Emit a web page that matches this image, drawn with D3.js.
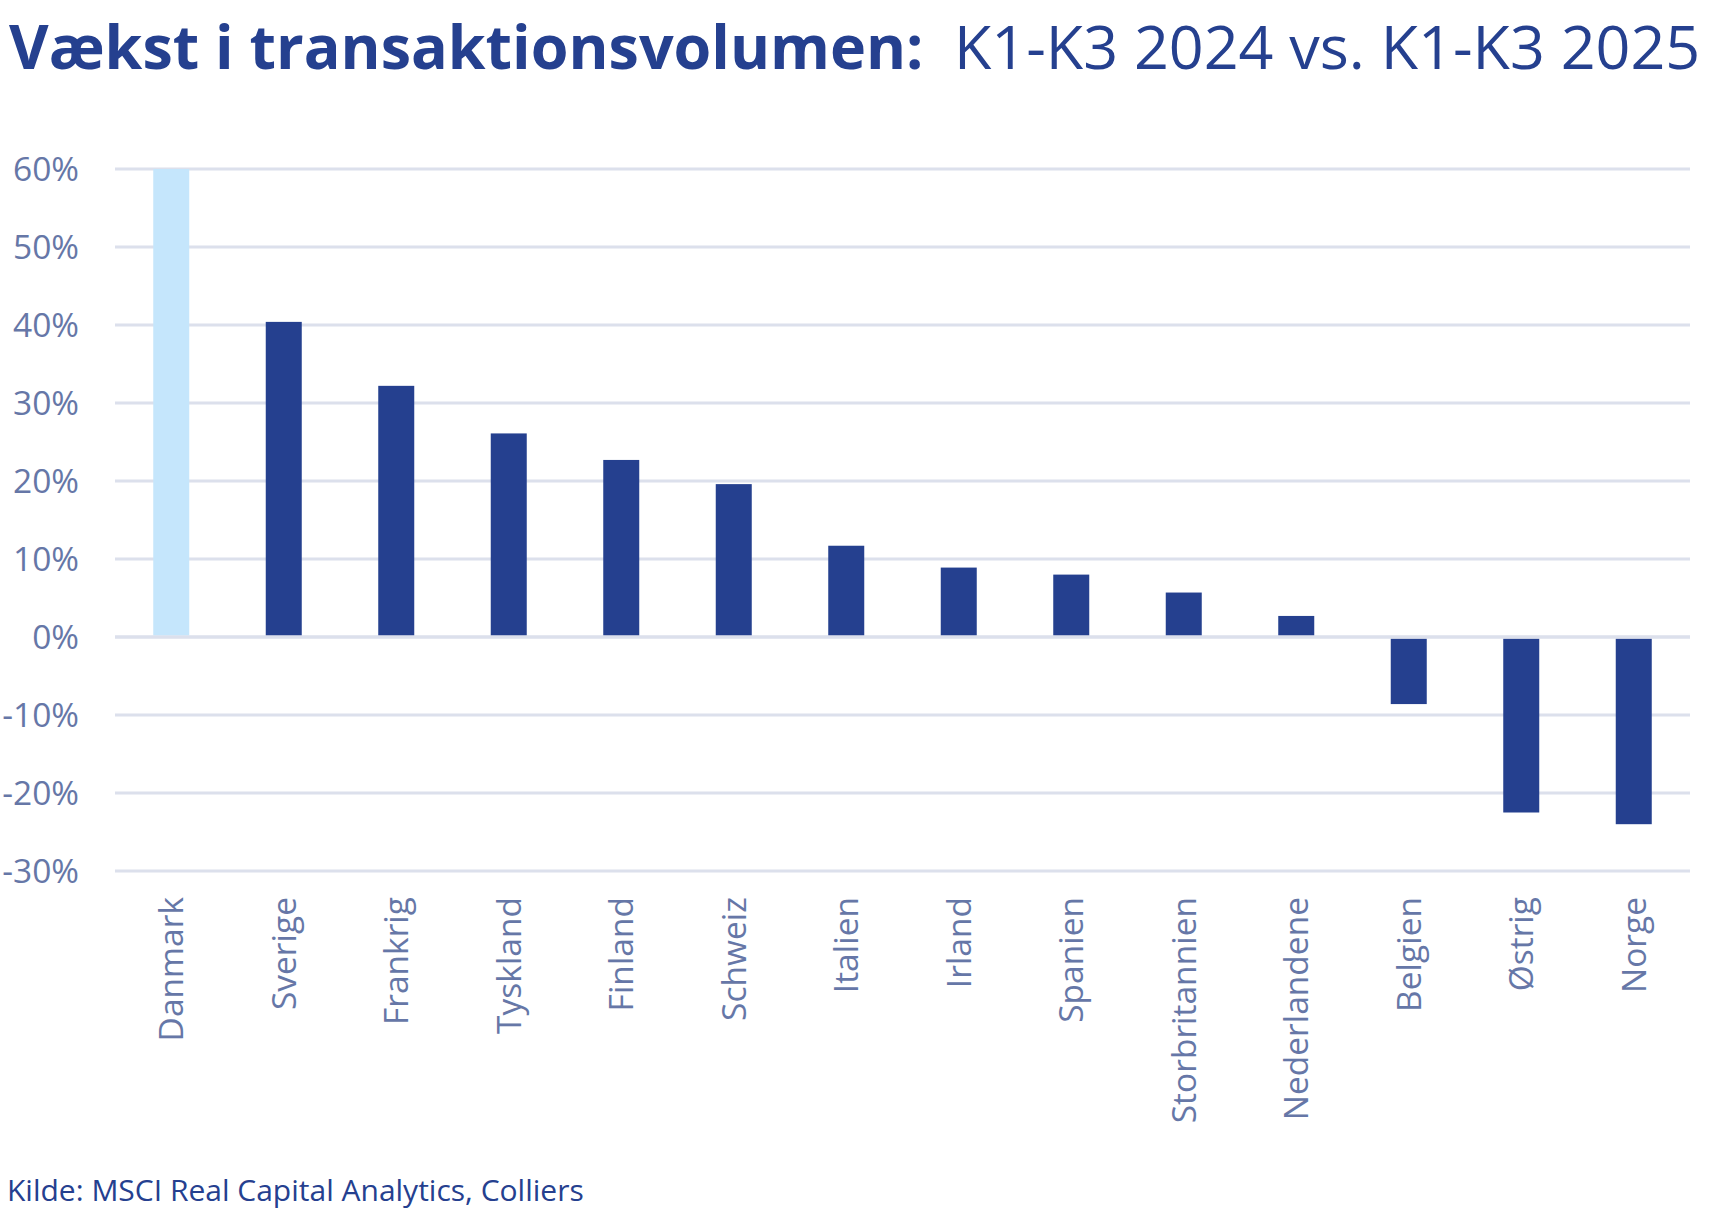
<!DOCTYPE html>
<html>
<head>
<meta charset="utf-8">
<script src="https://cdn.jsdelivr.net/npm/d3@7"></script>
<style>
    body { margin: 0; background: #fff; }
    svg { display: block; font-family: "Open Sans", sans-serif; }
</style>
</head>
<body>
<div id="chart"></div>
<script>

/*
 * data
 */
var countries = ["Danmark", "Sverige", "Frankrig", "Tyskland", "Finland", "Schweiz", "Italien",
    "Irland", "Spanien", "Storbritannien", "Nederlandene", "Belgien", "Østrig", "Norge"];
var growth = [60, 40.4, 32.2, 26.1, 22.7, 19.6, 11.7, 8.9, 8.0, 5.7, 2.7, -8.6, -22.5, -24.0];
var yTicks = [-30, -20, -10, 0, 10, 20, 30, 40, 50, 60];

var width = 1711,
    height = 1226;
var margin = {top: 169, right: 21, bottom: 355, left: 115};

var darkBlue = "#25408f",
    lightBlue = "#c5e6fc",
    labelColor = "#6677a7",
    gridColor = "#dce0ec";

var svg = d3.select("#chart").append("svg")
    .attr("width", width)
    .attr("height", height);

// title
var title = svg.append("text")
    .attr("x", 9)
    .attr("y", 69)
    .attr("fill", darkBlue)
    .style("font-size", "61px");
title.append("tspan").attr("font-weight", 700).text("Vækst i transaktionsvolumen:");
title.append("tspan").attr("dx", "0.5em").text("K1-K3 2024 vs. K1-K3 2025");

var x = d3.scaleBand()
    .domain(countries)
    .range([margin.left, width - margin.right])
    .paddingInner(0.68)
    .paddingOuter(0.34);

var y = d3.scaleLinear()
    .domain([-30, 60])
    .range([height - margin.bottom, margin.top]);

// gridlines
svg.append("g").selectAll("line")
    .data(yTicks)
    .enter().append("line")
    .attr("x1", margin.left)
    .attr("x2", width - margin.right)
    .attr("y1", function(d){ return y(d); })
    .attr("y2", function(d){ return y(d); })
    .attr("stroke", gridColor)
    .attr("stroke-width", 3);

// y tick labels
svg.append("g").selectAll("text")
    .data(yTicks)
    .enter().append("text")
    .attr("x", 79)
    .attr("y", function(d){ return y(d); })
    .attr("dy", "0.36em")
    .attr("text-anchor", "end")
    .attr("fill", labelColor)
    .style("font-size", "33.5px")
    .text(function(d){ return d + "%"; });

// bars
var data = countries.map(function(c, i){ return {name: c, value: growth[i]}; });

svg.append("g").selectAll("rect")
    .data(data)
    .enter().append("rect")
    .attr("x", function(d){ return x(d.name); })
    .attr("width", x.bandwidth())
    .attr("y", function(d){ return d.value >= 0 ? y(d.value) : y(0) + 1.7; })
    .attr("height", function(d){ return d.value >= 0 ? y(0) - 1.5 - y(d.value) : y(d.value) - y(0) - 1.7; })
    .attr("fill", function(d, i){ return i === 0 ? lightBlue : darkBlue; });

// zero line on top
svg.append("line")
    .attr("x1", margin.left)
    .attr("x2", width - margin.right)
    .attr("y1", y(0))
    .attr("y2", y(0))
    .attr("stroke", gridColor)
    .attr("stroke-width", 3);

// category labels, rotated
svg.append("g").selectAll("text")
    .data(countries)
    .enter().append("text")
    .attr("transform", function(d){
        return "translate(" + (x(d) + x.bandwidth() / 2) + "," + (y(-30) + 26) + ") rotate(-90)";
    })
    .attr("dy", "0.36em")
    .attr("text-anchor", "end")
    .attr("fill", labelColor)
    .style("font-size", "33.5px")
    .text(function(d){ return d; });

// source
svg.append("text")
    .attr("x", 7)
    .attr("y", 1201)
    .attr("fill", darkBlue)
    .style("font-size", "30px")
    .text("Kilde: MSCI Real Capital Analytics, Colliers");

</script>
</body>
</html>
